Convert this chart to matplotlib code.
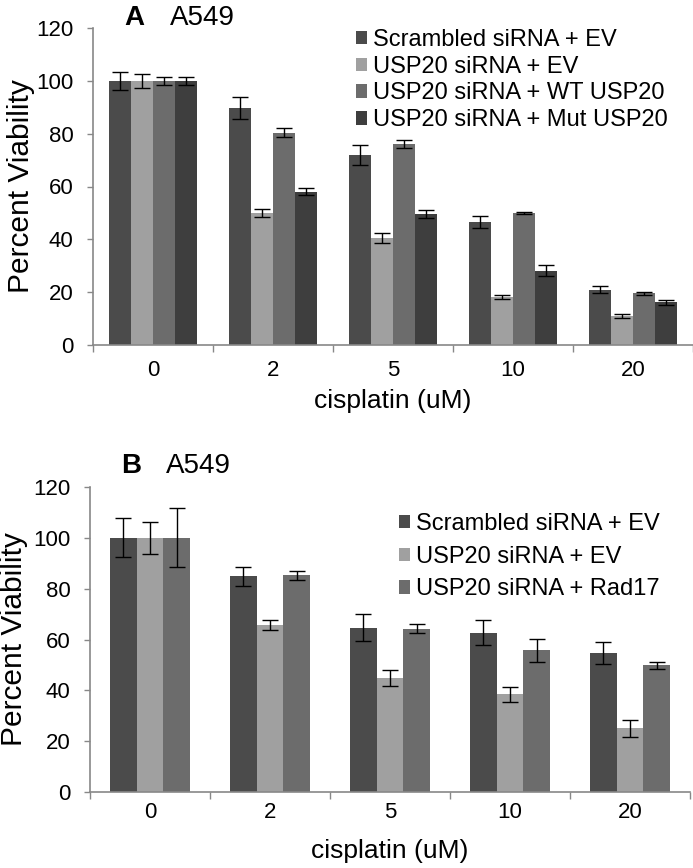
import numpy as np
import matplotlib.pyplot as plt
from matplotlib.ticker import FixedLocator, NullFormatter

plt.rcParams['font.family'] = ['Liberation Sans', 'DejaVu Sans']

doses = ['0', '2', '5', '10', '20']

## Panel A
labels_a = ['Scrambled siRNA + EV', 'USP20 siRNA + EV',
            'USP20 siRNA + WT USP20', 'USP20 siRNA + Mut USP20']
scr_a = [100, 89.6, 71.9, 46.7, 21.0]
scr_a_err = [3.3, 4.2, 3.7, 2.3, 1.3]
ev_a = [100, 49.9, 40.5, 18.2, 10.9]
ev_a_err = [2.7, 1.4, 2.0, 0.8, 0.8]
wt_a = [100, 80.4, 76.1, 49.9, 19.6]
wt_a_err = [1.4, 1.7, 1.4, 0.4, 0.6]
mut_a = [100, 58.1, 49.6, 28.2, 16.2]
mut_a_err = [1.4, 1.3, 1.6, 1.9, 1.0]

## Panel B
labels_b = ['Scrambled siRNA + EV', 'USP20 siRNA + EV', 'USP20 siRNA + Rad17']
scr_b = [100, 84.8, 64.7, 62.7, 54.8]
scr_b_err = [7.7, 3.6, 5.3, 4.8, 4.3]
ev_b = [100, 65.7, 44.9, 38.4, 25.0]
ev_b_err = [6.2, 2.0, 3.2, 2.9, 3.2]
rad_b = [100, 85.2, 64.3, 55.8, 49.8]
rad_b_err = [11.6, 1.8, 1.8, 4.5, 1.4]

colors_a = ['#4b4b4b', '#a0a0a0', '#6c6c6c', '#3e3e3e']
colors_b = ['#4b4b4b', '#a0a0a0', '#6c6c6c']
spine_col = '#888888'

fig = plt.figure(figsize=(6.93, 8.68), dpi=100)
W, H = 693, 868


def panel(rect, series, errs, labels, colors, leg_xy, leg_space, xlab_y, ylab_x,
          xpad):
    ax = fig.add_axes(rect)
    x = np.arange(len(doses))
    n = len(series)
    w = 1.0 / (n + 1.5)  # excel style gap width 150%
    for i, (vals, e) in enumerate(zip(series, errs)):
        pos = x + (i - (n - 1) / 2) * w
        ax.bar(pos, vals, width=w, color=colors[i], label=labels[i],
               linewidth=0, zorder=2)
        ax.errorbar(pos, vals, yerr=e, fmt='none', ecolor='black',
                    elinewidth=1, capsize=5.5, capthick=1, zorder=3)
    ax.set_xlim(-0.5, len(doses) - 0.5)
    ax.set_ylim(0, 120)
    ax.set_yticks(range(0, 121, 20))
    ax.set_xticks(x)
    ax.set_xticklabels(doses)
    ax.xaxis.set_minor_locator(FixedLocator(np.arange(-0.5, len(doses), 1)))
    ax.xaxis.set_minor_formatter(NullFormatter())
    for s in ['top', 'right']:
        ax.spines[s].set_visible(False)
    for s in ['left', 'bottom']:
        ax.spines[s].set_color(spine_col)
        ax.spines[s].set_linewidth(1.2)
    ax.tick_params(axis='y', length=4, width=1, color=spine_col, pad=10,
                   labelsize=16)
    ax.tick_params(axis='x', which='major', length=0, pad=xpad, labelsize=16)
    ax.tick_params(axis='x', which='minor', length=5, width=1, color=spine_col)
    ax.set_xlabel('cisplatin (uM)', fontsize=19)
    ax.set_ylabel('Percent Viability', fontsize=21.5)
    ax.xaxis.set_label_coords(0.5, xlab_y)
    ax.xaxis.label.set_verticalalignment('center')
    ax.yaxis.set_label_coords(ylab_x, 0.5)
    ax.yaxis.label.set_verticalalignment('center')
    ax.legend(loc='upper left', bbox_to_anchor=(leg_xy[0] / W, 1 - leg_xy[1] / H),
              bbox_transform=fig.transFigure, frameon=False, fontsize=17,
              borderpad=0, borderaxespad=0, handlelength=0.45, handleheight=0.5,
              handletextpad=0.25, labelspacing=leg_space)
    return ax


# Panel A: axes from x=93..693, y=28..345 px
ax_a = panel([93 / W, 1 - 345 / H, 600 / W, 317 / H],
             [scr_a, ev_a, wt_a, mut_a],
             [scr_a_err, ev_a_err, wt_a_err, mut_a_err],
             labels_a, colors_a, (356, 29), 0.2, -0.178, -0.12, 11)
# Panel B: axes from x=90..690, y=487..792 px
ax_b = panel([90 / W, 1 - 792 / H, 600 / W, 305 / H],
             [scr_b, ev_b, rad_b],
             [scr_b_err, ev_b_err, rad_b_err],
             labels_b, colors_b, (399, 513), 0.45, -0.193, -0.127, 7.5)

fig.text(124 / W, 1 - 25 / H, 'A', fontsize=20, fontweight='bold', va='baseline')
fig.text(170 / W, 1 - 25 / H, 'A549', fontsize=20, va='baseline')
fig.text(121 / W, 1 - 473 / H, 'B', fontsize=20, fontweight='bold', va='baseline')
fig.text(166 / W, 1 - 473 / H, 'A549', fontsize=20, va='baseline')

fig.savefig('out.png', dpi=100)
